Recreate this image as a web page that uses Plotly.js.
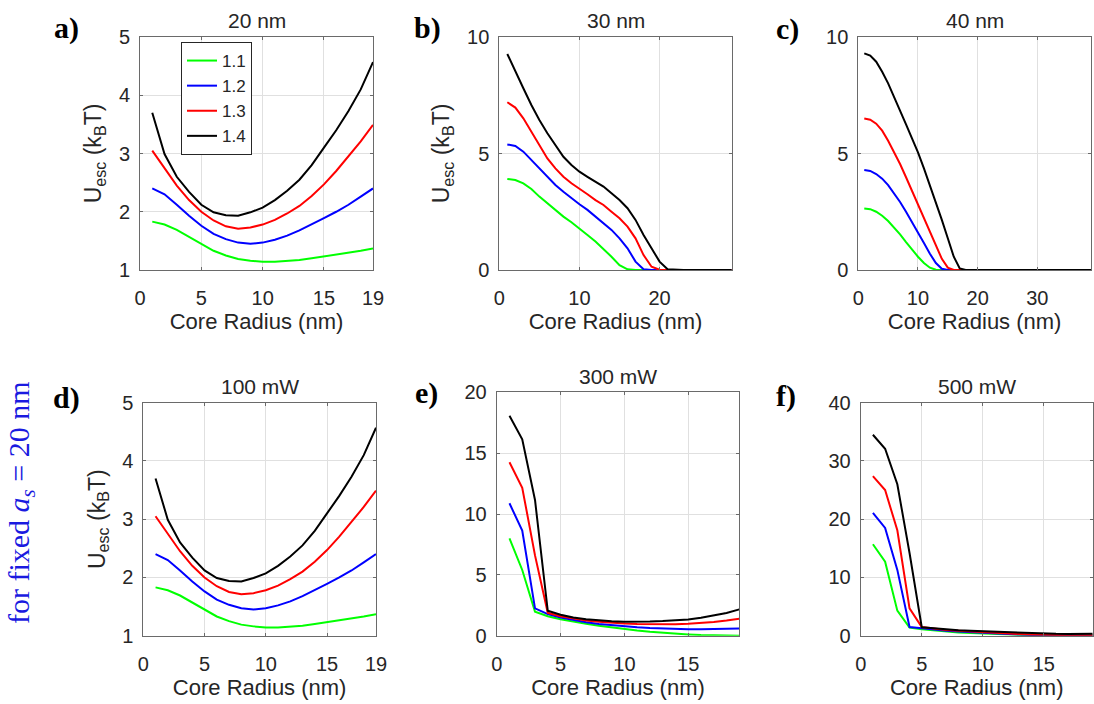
<!DOCTYPE html>
<html>
<head>
<meta charset="utf-8">
<script src="https://cdn.plot.ly/plotly-3.0.1.min.js"></script>
<style>html,body{margin:0;padding:0;background:#fff;}#chart{width:1094px;height:704px;}</style>
</head>
<body>
<div id="chart"></div>
<script>
// ---------- data ----------
const seriesNames = ['1.1', '1.2', '1.3', '1.4'];
const seriesColors = ['#00ff00', '#0000ff', '#ff0000', '#000000'];

// panel a (20 nm) and panel d (100 mW)
const a_x = [1,2,3,4,5,6,7,8,9,10,11,12,13,14,15,16,17,18,19];
const a_11 = [1.83,1.78,1.69,1.57,1.44,1.33,1.25,1.19,1.16,1.14,1.14,1.15,1.17,1.20,1.23,1.26,1.30,1.33,1.37];
const a_12 = [2.40,2.30,2.12,1.93,1.76,1.62,1.53,1.47,1.45,1.47,1.52,1.59,1.68,1.78,1.89,2.00,2.12,2.26,2.40];
const a_13 = [3.05,2.75,2.45,2.20,2.00,1.85,1.75,1.71,1.73,1.78,1.86,1.97,2.10,2.27,2.47,2.70,2.95,3.21,3.49];
const a_14 = [3.70,2.99,2.60,2.34,2.12,1.99,1.94,1.93,1.99,2.07,2.20,2.36,2.55,2.80,3.10,3.40,3.73,4.10,4.57];

// panel b (30 nm)
const b_x = [1,2,3,4,5,6,7,8,9,10,11,12,13,14,15,16,17,18,19,20,21,22,23,24,25,26,27,28,29];
const b_11 = [3.91,3.86,3.72,3.48,3.15,2.86,2.58,2.29,2.05,1.79,1.50,1.22,0.90,0.57,0.21,0.03,0,0,0,0,0,0,0,0,0,0,0,0,0];
const b_12 = [5.39,5.32,5.08,4.72,4.36,4.00,3.65,3.36,3.08,2.82,2.58,2.29,2.00,1.72,1.36,0.93,0.36,0.03,0,0,0,0,0,0,0,0,0,0,0];
const b_13 = [7.20,6.97,6.51,5.94,5.36,4.79,4.36,4.00,3.72,3.50,3.25,3.00,2.79,2.50,2.22,1.86,1.36,0.64,0.14,0.01,0,0,0,0,0,0,0,0,0];
const b_14 = [9.27,8.51,7.80,7.08,6.44,5.87,5.36,4.86,4.51,4.22,4.00,3.79,3.58,3.29,3.00,2.65,2.15,1.50,0.93,0.36,0.03,0,0,0,0,0,0,0,0];

// panel c (40 nm)
const c_x = [1,2,3,4,5,6,7,8,9,10,11,12,13,14,15,16,17,18,19,20,21,22,23,24,25,26,27,28,29,30,31,32,33,34,35,36,37,38,39];
const c_11 = [2.64,2.61,2.50,2.33,2.10,1.83,1.53,1.20,0.88,0.57,0.30,0.10,0.01,0,0,0,0,0,0,0,0,0,0,0,0,0,0,0,0,0,0,0,0,0,0,0,0,0,0];
const c_12 = [4.29,4.25,4.12,3.92,3.64,3.30,2.92,2.50,2.07,1.63,1.16,0.70,0.30,0.05,0,0,0,0,0,0,0,0,0,0,0,0,0,0,0,0,0,0,0,0,0,0,0,0,0];
const c_13 = [6.50,6.45,6.28,5.98,5.55,5.08,4.55,3.98,3.40,2.80,2.20,1.60,1.02,0.48,0.10,0,0,0,0,0,0,0,0,0,0,0,0,0,0,0,0,0,0,0,0,0,0,0,0];
const c_14 = [9.30,9.20,8.94,8.51,8.01,7.44,6.87,6.25,5.65,5.05,4.36,3.65,2.93,2.15,1.36,0.57,0.07,0,0,0,0,0,0,0,0,0,0,0,0,0,0,0,0,0,0,0,0,0,0];

// panel e (300 mW)
const e_x = [1,2,3,4,5,6,7,8,9,10,11,12,13,14,15,16,17,18,19];
const e_11 = [8.00,5.40,1.97,1.60,1.35,1.15,0.98,0.82,0.67,0.53,0.42,0.32,0.23,0.16,0.10,0.05,0.02,0.00,0.00];
const e_12 = [10.88,8.63,2.25,1.78,1.50,1.28,1.10,0.96,0.85,0.76,0.69,0.63,0.58,0.55,0.53,0.52,0.53,0.56,0.60];
const e_13 = [14.25,12.16,6.60,1.88,1.60,1.40,1.25,1.14,1.06,1.01,0.97,0.95,0.94,0.95,0.98,1.04,1.13,1.25,1.40];
const e_14 = [18.08,16.14,11.15,2.05,1.72,1.50,1.36,1.26,1.19,1.15,1.14,1.16,1.20,1.26,1.34,1.47,1.64,1.87,2.16];

// panel f (500 mW)
const f_x = [1,2,3,4,5,6,7,8,9,10,11,12,13,14,15,16,17,18,19];
const f_11 = [15.7,12.7,4.3,1.4,1.1,0.9,0.72,0.57,0.45,0.35,0.26,0.18,0.11,0.06,0.02,0,0,0,0];
const f_12 = [21.1,18.5,11.3,1.5,1.3,1.05,0.85,0.70,0.58,0.46,0.36,0.27,0.19,0.12,0.07,0.03,0.01,0,0];
const f_13 = [27.4,25.0,18.1,4.7,1.5,1.2,1.0,0.85,0.72,0.60,0.50,0.40,0.30,0.22,0.15,0.10,0.08,0.07,0.08];
const f_14 = [34.5,32.1,26.0,14.2,1.45,1.25,1.08,0.95,0.85,0.76,0.68,0.60,0.52,0.45,0.38,0.32,0.30,0.30,0.33];

// tick labels
const ticksX_a = [0,5,10,15,19];
const ticksY_a = [1,2,3,4,5];
const ticksX_b = [0,10,20];
const ticksY_b = [0,5,10];
const ticksX_c = [0,10,20,30];
const ticksY_c = [0,5,10];
const ticksX_e = [0,5,10,15];
const ticksY_e = [0,5,10,15,20];
const ticksX_f = [0,5,10,15];
const ticksY_f = [0,10,20,30,40];

const panelTitles = ['20 nm', '30 nm', '40 nm', '100 mW', '300 mW', '500 mW'];
const panelLetters = ['a)', 'b)', 'c)', 'd)', 'e)', 'f)'];
const yTitleText = 'U<sub>esc</sub> (k<sub>B</sub>T)';
const xTitleText = 'Core Radius (nm)';
const sideText = 'for fixed <i>a<sub>s</sub></i> = 20 nm';

// ---------- layout helpers ----------
const W = 1094, H = 704;
const FONT = 'Liberation Sans, Arial, Helvetica, sans-serif';
const TXT = '#262626';

// pixel boxes [left, right, top, bottom]
const boxes = [
  [140, 373, 37, 270],
  [499.3, 731.7, 37, 270],
  [858.3, 1091, 37, 270],
  [143.3, 376, 402.7, 635.7],
  [496.7, 739.3, 392.3, 635.7],
  [860.7, 1092.7, 402.7, 635.7]
];

const panels = [
  {x: a_x, ys: [a_11, a_12, a_13, a_14], xr: [0, 19], yr: [1, 5], xt: ticksX_a, yt: ticksY_a, ytitle: true},
  {x: b_x, ys: [b_11, b_12, b_13, b_14], xr: [0, 29], yr: [0, 10], xt: ticksX_b, yt: ticksY_b, ytitle: true},
  {x: c_x, ys: [c_11, c_12, c_13, c_14], xr: [0, 39], yr: [0, 10], xt: ticksX_c, yt: ticksY_c, ytitle: false},
  {x: a_x, ys: [a_11, a_12, a_13, a_14], xr: [0, 19], yr: [1, 5], xt: ticksX_a, yt: ticksY_a, ytitle: true},
  {x: e_x, ys: [e_11, e_12, e_13, e_14], xr: [0, 19], yr: [0, 20], xt: ticksX_e, yt: ticksY_e, ytitle: false},
  {x: f_x, ys: [f_11, f_12, f_13, f_14], xr: [0, 19], yr: [0, 40], xt: ticksX_f, yt: ticksY_f, ytitle: false}
];

const traces = [];
const layout = {
  width: W, height: H,
  margin: {l: 0, r: 0, t: 0, b: 0},
  paper_bgcolor: '#ffffff',
  plot_bgcolor: '#ffffff',
  font: {family: FONT, color: TXT, size: 19},
  showlegend: true,
  legend: {
    x: 181 / W, y: 1 - 42 / H, xanchor: 'left', yanchor: 'top',
    bgcolor: '#ffffff', bordercolor: '#262626', borderwidth: 1,
    font: {family: FONT, size: 17, color: TXT},
    tracegroupgap: 0, itemwidth: 30
  },
  annotations: []
};

function axisBase(extra) {
  return Object.assign({
    showline: true, linecolor: '#6a6a6a', linewidth: 1, mirror: 'ticks',
    ticks: 'inside', ticklen: 3, tickcolor: '#6a6a6a', tickwidth: 1,
    showgrid: true, gridcolor: '#e0e0e0', gridwidth: 1,
    zeroline: false, tickmode: 'array', fixedrange: true,
    tickfont: {family: FONT, size: 20, color: TXT}
  }, extra);
}

panels.forEach((p, i) => {
  const n = i + 1;
  const xa = n === 1 ? 'x' : 'x' + n;
  const ya = n === 1 ? 'y' : 'y' + n;
  const b = boxes[i];
  p.ys.forEach((yv, k) => {
    traces.push({
      type: 'scatter', mode: 'lines', x: p.x, y: yv, xaxis: xa, yaxis: ya,
      name: seriesNames[k], line: {color: seriesColors[k], width: 2},
      showlegend: i === 0, hoverinfo: 'skip'
    });
  });
  layout['xaxis' + (n === 1 ? '' : n)] = axisBase({
    domain: [b[0] / W, b[1] / W], anchor: ya, range: p.xr,
    tickvals: p.xt, ticktext: p.xt.map(String), ticklabelstandoff: 10,
    title: {text: xTitleText, font: {family: FONT, size: 22, color: TXT}, standoff: 4}
  });
  const yax = axisBase({
    domain: [1 - b[3] / H, 1 - b[2] / H], anchor: xa, range: p.yr,
    tickvals: p.yt, ticktext: p.yt.map(String), ticklabelstandoff: 5
  });
  if (p.ytitle) {
    yax.title = {text: yTitleText, font: {family: FONT, size: 23, color: TXT}, standoff: 10};
  }
  layout['yaxis' + (n === 1 ? '' : n)] = yax;
  // panel title
  layout.annotations.push({
    xref: 'paper', yref: 'paper', x: (b[0] + b[1]) / 2 / W,
    y: 1 - (b[2] - 16) / H, xanchor: 'center', yanchor: 'middle',
    text: panelTitles[i], showarrow: false,
    font: {family: FONT, size: 21, color: TXT}
  });
});

// panel letters
const letterPos = [[66, 28], [427, 28], [787, 29], [66, 398], [426, 393], [786, 396]];
letterPos.forEach((pp, i) => {
  layout.annotations.push({
    xref: 'paper', yref: 'paper', x: pp[0] / W, y: 1 - pp[1] / H,
    xanchor: 'center', yanchor: 'middle', showarrow: false,
    text: '<b>' + panelLetters[i] + '</b>',
    font: {family: 'Liberation Serif, Times New Roman, serif', size: 30, color: '#000000'}
  });
});

// side label
layout.annotations.push({
  xref: 'paper', yref: 'paper', x: 21 / W, y: 1 - 503 / H,
  xanchor: 'center', yanchor: 'middle', showarrow: false, textangle: -90,
  text: sideText,
  font: {family: 'Liberation Serif, Times New Roman, serif', size: 30, color: '#1a1ae0'}
});

Plotly.newPlot('chart', traces, layout, {displayModeBar: false, staticPlot: true});
</script>
</body>
</html>
